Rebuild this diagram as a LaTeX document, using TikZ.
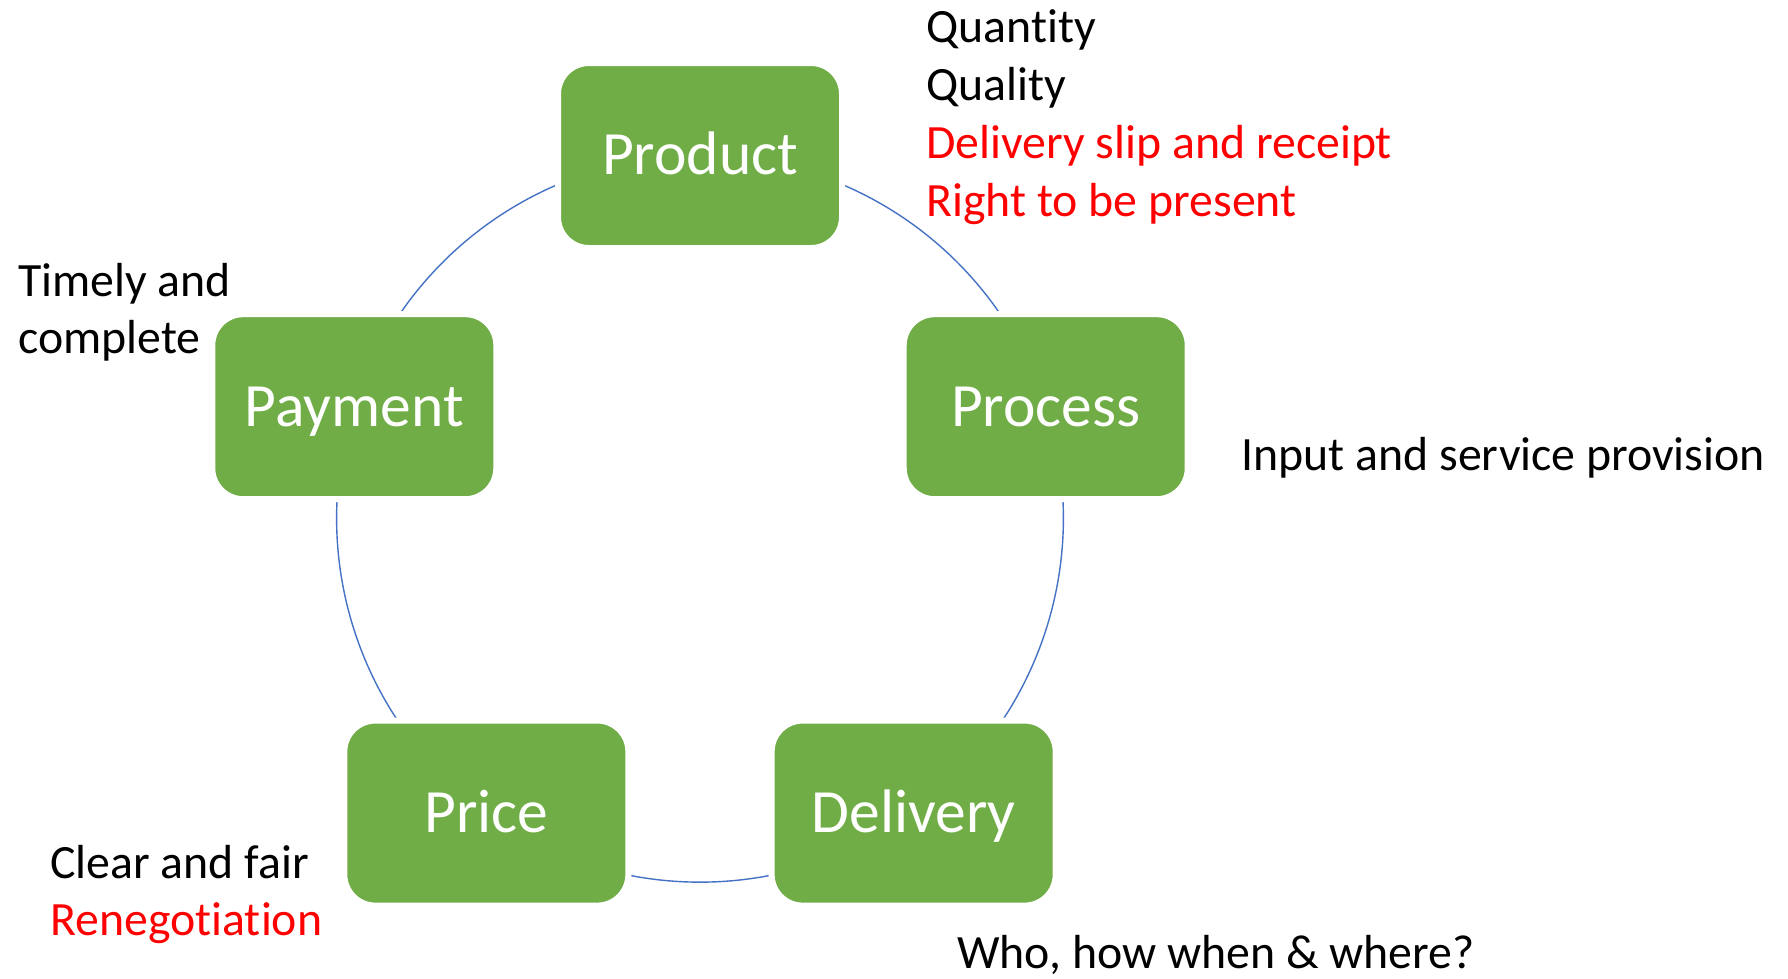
\documentclass[tikz,border=0pt]{standalone}
\usepackage{fontspec}
\setmainfont[RawFeature={-liga;-clig;-calt;-dlig;-rlig}]{Carlito}
\usepackage{xcolor}
\usetikzlibrary{calc,backgrounds}
\definecolor{stagegreen}{HTML}{70AD47}
\definecolor{cycleblue}{HTML}{4472C4}
\tikzset{
  stage/.style={rectangle, rounded corners=0.62cm, fill=stagegreen, draw=white, line width=0.12cm,
    minimum width=5.68cm, minimum height=3.70cm, text=white, inner sep=0pt,
    font=\fontsize{35}{42}\selectfont, text height=22pt, text depth=0pt},
  note/.style={anchor=base west, inner sep=0pt, font=\fontsize{27.2}{33}\selectfont},
  cycarc/.style={cycleblue, line width=0.8pt}
}

\begin{document}
\begin{tikzpicture}
    \useasboundingbox (0,0) rectangle (35.76,-19.56);
    \coordinate (c) at (14.0,-10.38);
    % the five stages on a circle
    \foreach \name/\ang/\txt in {prod/90/Product, proc/18/Process, deliv/-54/Delivery, price/-126/Price, pay/162/Payment}
        \node[stage] (\name) at ([shift={(\ang:7.27)}]c) {\txt};
    \begin{scope}[on background layer]
        \foreach \a/\b in {prod/proc, proc/deliv, deliv/price, price/pay, pay/prod}
            \draw[cycarc] (\a.center) to[bend left=36, looseness=0.94] (\b.center);
    \end{scope}
    % notes
    \node[note] (qty) at (18.52,-0.84) {Quantity};
    \node[note] (qual) at (18.52,-2.0) {Quality};
    \node[note, red] (slip) at (18.52,-3.16) {Delivery slip and receipt};
    \node[note, red] (present) at (18.52,-4.32) {Right to be present};
    \node[note] (timely) at (0.36,-5.93) {Timely and};
    \node[note] (complete) at (0.36,-7.07) {complete};
    \node[note] (input) at (24.82,-9.4) {Input and service provision};
    \node[note] (fair) at (1.0,-17.56) {Clear and fair};
    \node[note, red] (reneg) at (1.0,-18.7) {Renegotiation};
    \node[note] (who) at (19.14,-19.36) {Who, how when \& where?};
\end{tikzpicture}
\end{document}
